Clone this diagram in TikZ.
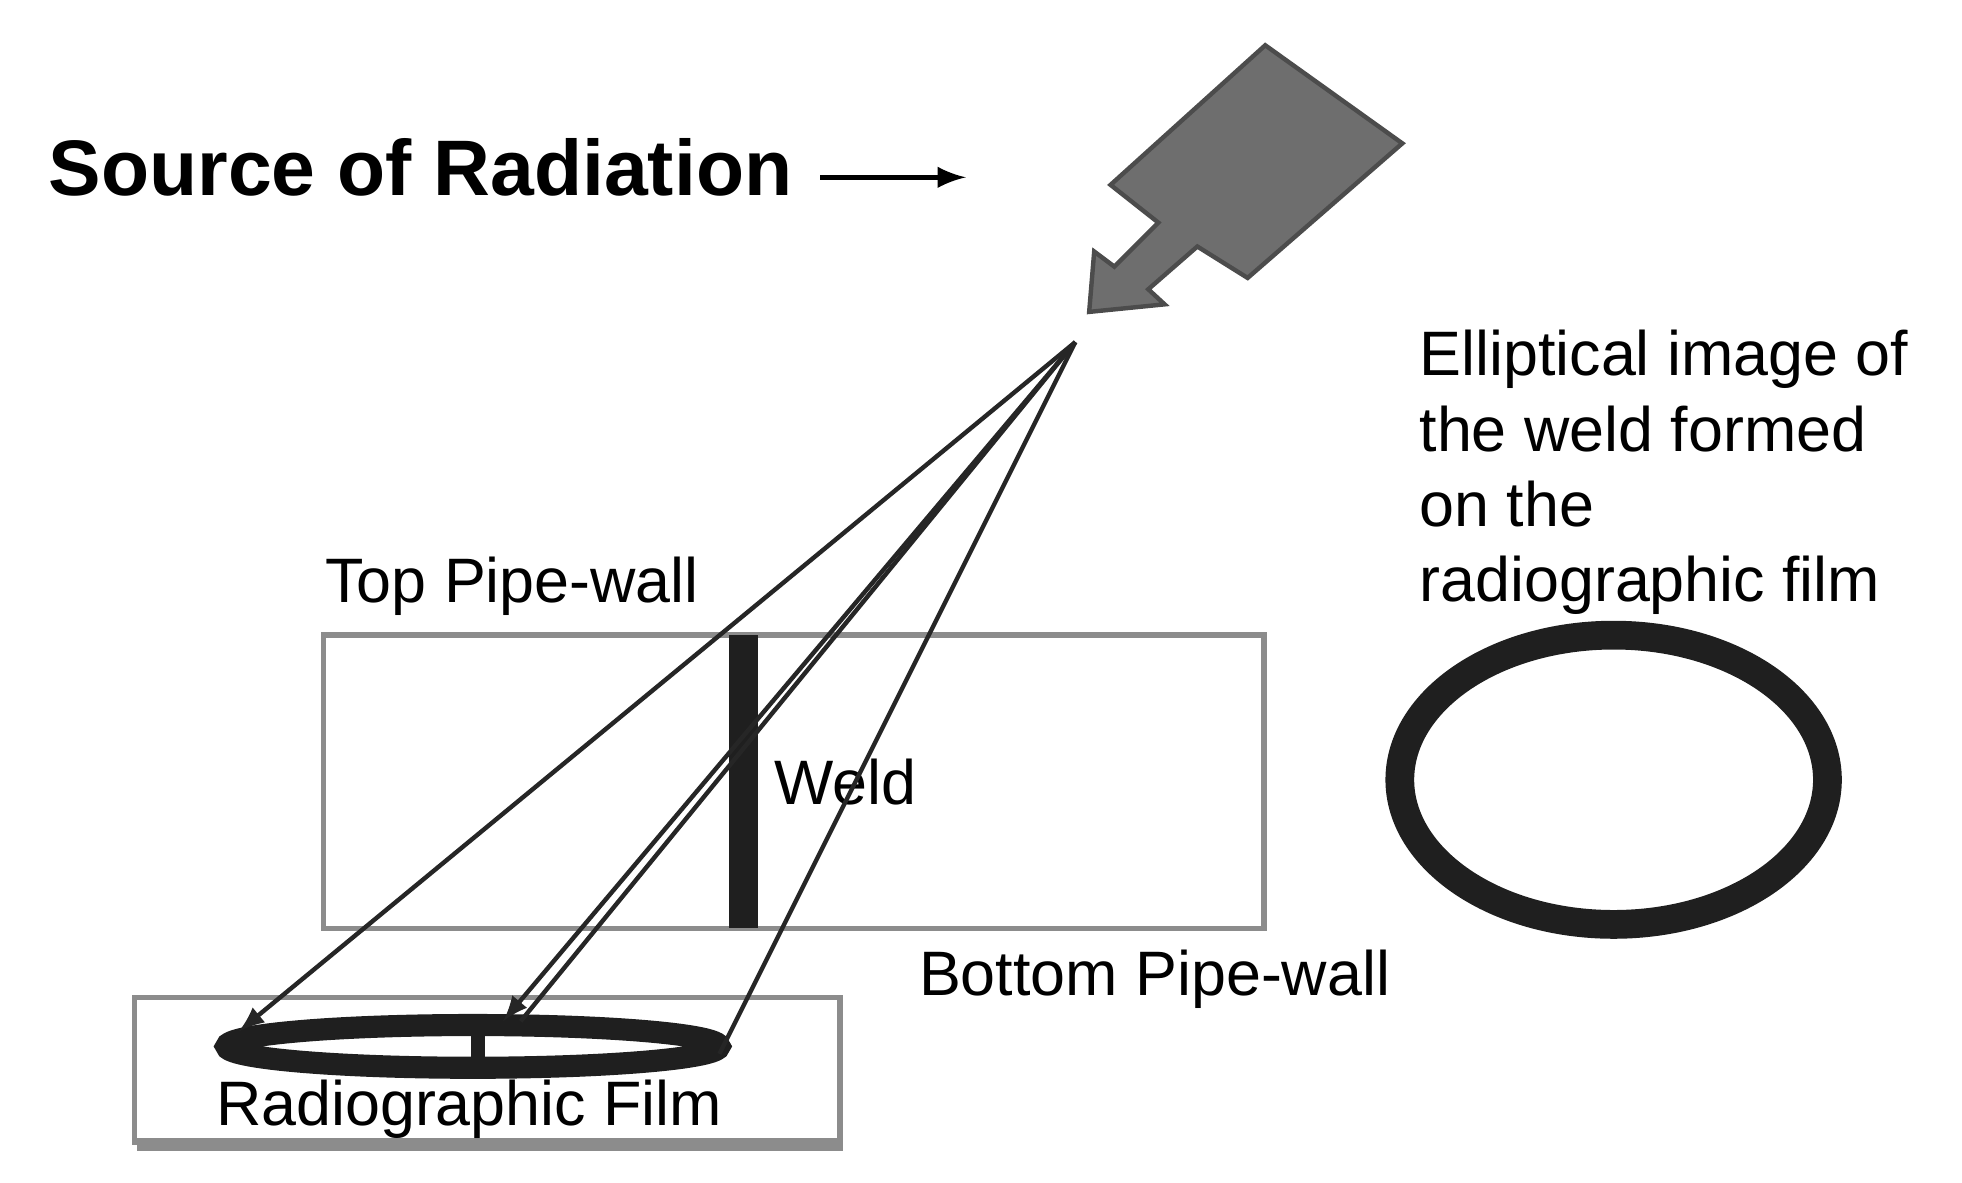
\documentclass[tikz,border=0pt]{standalone}
\usepackage{fontspec}
\setmainfont{Liberation Sans}
\usetikzlibrary{positioning}
\tikzset{
  lbl/.style={inner sep=0pt, font=\fontsize{14.2}{17}\selectfont},
  wall/.style={draw=black!45, line width=1.2pt},
  ray/.style={draw=black!85, line width=1pt},
}
\begin{document}
\begin{tikzpicture}[x=0.01cm, y=-0.01cm, >=latex]
\useasboundingbox (0,0) rectangle (1560,940);

% source
\node [inner sep=0pt, anchor=west, font=\bfseries\fontsize{17.8}{22}\selectfont] (title) at (38,133) {Source of Radiation};
\coordinate (tgt) at (768,141);
\draw [->, line width=1.2pt] (652,141) -- (tgt);
\draw [fill=black!57, draw=black!70, line width=1pt]
  (1006,36) -- (1115,114) -- (992,221) -- (952,196) -- (913,230) -- (926,242)
  -- (866,248) -- (870,200) -- (886,212) -- (921,177) -- (883,147) -- cycle;
\coordinate (src) at (855,272);

% pipe
\draw [wall] (257,505) rectangle (1005,738);
\fill [black!88] (580,505) rectangle (603,738);
\node [lbl, anchor=north west] (top) at (258,442) {Top Pipe-wall};
\node [lbl, anchor=west] (weld) at (615,622) {Weld};
\node [lbl, anchor=north west] (bottom) at (730,755) {Bottom Pipe-wall};

% film
\fill [black!45] (109,905) rectangle (670,915);
\draw [wall] (107,793) rectangle (668,908);
\draw [black!88, line width=5pt] (376,832) ellipse (196 and 17);
\draw [black!88, line width=3pt] (380,822) -- (380,842);
\node [lbl, anchor=north] (film) at (373,858) {Radiographic Film};

% rays
\coordinate (f1) at (190,820);
\coordinate (f2) at (400,812);
\coordinate (f3) at (414,812);
\coordinate (f4) at (572,838);
\draw [ray, ->] (src) -- (f1);
\draw [ray, ->] (src) -- (f2);
\draw [ray] (src) -- (f3);
\draw [ray] (src) -- (f4);

% image
\draw [black!88, line width=6.5pt] (1283,620) ellipse (170 and 115);
\node [lbl, anchor=north west, align=left] (note) at (1128,262)
  {Elliptical image of\\the weld formed\\on the\\radiographic film};
\end{tikzpicture}
\end{document}
